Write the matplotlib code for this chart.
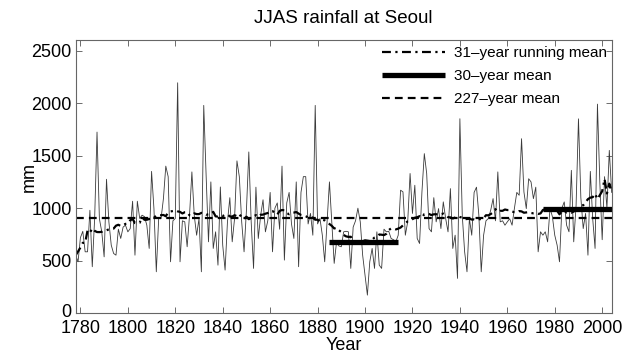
import numpy as np
import matplotlib
matplotlib.use('Agg')
import matplotlib.pyplot as plt
from matplotlib.transforms import ScaledTranslation

plt.rcParams['font.family'] = ['Liberation Sans', 'DejaVu Sans']

# JJAS rainfall at Seoul (mm), one value per year
first_year = 1778
rain = [
    553, 490, 720, 780, 585, 585, 980, 443, 900, 1724,      # 1778-1787
    900, 775, 537, 1275, 870, 648, 569, 553, 800, 712,      # 1788-1797
    820, 838, 775, 806, 1066, 553, 1066, 902, 933, 920,     # 1798-1807
    838, 617, 1350, 996, 395, 902, 900, 1091, 1400, 1300,   # 1808-1817
    490, 880, 902, 2193, 490, 880, 870, 633, 930, 1345,     # 1818-1827
    930, 743, 900, 395, 1978, 1313, 680, 1250, 617, 775,    # 1828-1837
    458, 1202, 648, 411, 870, 1100, 680, 902, 1450, 1300,   # 1838-1847
    870, 585, 980, 1535, 870, 427, 1200, 712, 933, 1080,    # 1848-1857
    775, 880, 1150, 585, 1000, 1050, 800, 1400, 506, 1050,  # 1858-1867
    1150, 850, 712, 1250, 443, 1150, 1300, 1300, 850, 950,  # 1868-1877
    743, 1978, 850, 902, 743, 490, 870, 1250, 870, 475,     # 1878-1887
    680, 640, 633, 775, 780, 775, 427, 820, 880, 1000,      # 1888-1897
    870, 553, 364, 173, 490, 617, 427, 775, 458, 427,       # 1898-1907
    800, 775, 780, 712, 700, 680, 743, 1171, 1155, 743,     # 1908-1917
    870, 1330, 950, 1218, 712, 664, 1155, 1519, 1330, 806,  # 1918-1927
    775, 1100, 870, 996, 806, 1060, 902, 775, 1186, 617,    # 1928-1937
    743, 332, 1851, 933, 585, 395, 902, 743, 1150, 1200,    # 1938-1947
    933, 395, 743, 880, 902, 981, 1091, 880, 1345, 870,     # 1948-1957
    880, 838, 870, 900, 838, 1000, 1150, 1123, 1661, 1155,  # 1958-1967
    996, 1280, 1250, 1091, 1200, 585, 775, 743, 775, 680,   # 1968-1977
    1000, 920, 743, 648, 490, 1000, 1060, 838, 775, 1360,   # 1978-1987
    680, 1028, 1850, 1100, 806, 950, 553, 1350, 900, 617,   # 1988-1997
    1990, 1250, 700, 1300, 1000, 1550, 1150,                # 1998-2004
]
rain = np.array(rain, dtype=float)
years = np.arange(first_year, first_year + len(rain))

# periods for the two 30-year means
period1 = (1885, 1914)
period2 = (1975, 2004)


def running_mean(y, span):
    # moving average, window shrinks at the ends (like matlab smooth)
    n = len(y)
    h = span // 2
    out = np.empty(n)
    for i in range(n):
        k = min(h, i, n - 1 - i)
        out[i] = y[i - k:i + k + 1].mean()
    return out


rm31 = running_mean(rain, 31)
mean_all = rain.mean()
m1 = rain[(years >= period1[0]) & (years <= period1[1])].mean()
m2 = rain[(years >= period2[0]) & (years <= period2[1])].mean()

fig = plt.figure(figsize=(6.28, 3.54), dpi=100)
ax = fig.add_axes([0.1205, 0.115, 0.8535, 0.772])

ax.plot(years, rain, color='#3a3a3a', lw=0.6)
ax.plot(years, rm31, color='black', lw=1.6, dashes=(4, 2, 1, 2),
        label='31\u2013year running mean')
ax.plot(period1, [m1, m1], color='black', lw=3.8, solid_capstyle='butt',
        label='30\u2013year mean')
ax.plot(period2, [m2, m2], color='black', lw=3.8, solid_capstyle='butt')
ax.plot([years[0], years[-1]], [mean_all, mean_all], color='black', lw=1.6,
        dashes=(3.5, 2.3), label='227\u2013year mean')

ax.set_xlim(first_year, years[-1])
ax.set_ylim(0, 2600)
ax.set_xticks(np.arange(1780, 2001, 20))
ax.set_yticks(np.arange(0, 2501, 500))
ax.tick_params(direction='in', top=True, right=True, length=4, width=0.6,
               color='#555555', labelsize=13)
ax.tick_params(axis='x', pad=5)
ax.tick_params(axis='y', pad=3)
for s in ax.spines.values():
    s.set_color('#666666')
    s.set_linewidth(0.8)

# nudge the "0" label up a little so it clears the "1780" label
fig.canvas.draw()
zero_lbl = ax.get_yticklabels()[0]
zero_lbl.set_transform(zero_lbl.get_transform()
                       + ScaledTranslation(0, 2 / 72, fig.dpi_scale_trans))

ax.set_xlabel('Year', fontsize=13, labelpad=0)
ax.set_ylabel('mm', fontsize=13)
ax.yaxis.set_label_coords(-0.07, 0.5)
ax.set_title('JJAS rainfall at Seoul', fontsize=13.5, pad=12)

ax.legend(loc='upper right', bbox_to_anchor=(1.0, 0.995), frameon=False,
          fontsize=11, handlelength=4.1, handletextpad=0.6,
          labelspacing=0.6, borderaxespad=0.0, borderpad=0.3)

plt.savefig('out.png', dpi=100)
